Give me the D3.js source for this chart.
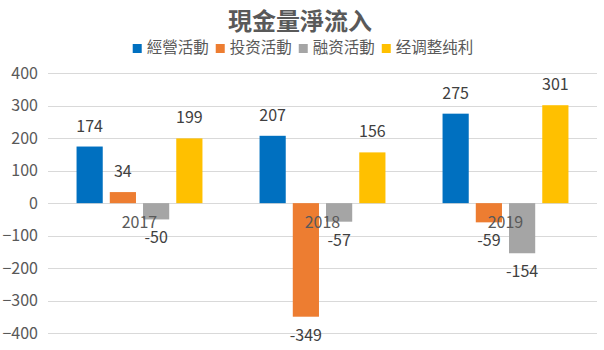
<!DOCTYPE html>
<html><head><meta charset="utf-8">
<script src="https://cdn.jsdelivr.net/npm/d3@7"></script>
<style>body{margin:0;background:#fff}svg{display:block}text{font-family:"Noto Sans CJK SC","Microsoft YaHei",sans-serif}</style>
</head><body><svg id="c" width="604" height="350"></svg>
<script>
const title = "現金量淨流入";
const categories = ["2017", "2018", "2019"];
const seriesNames = ["經營活動", "投资活動", "融资活動", "经调整纯利"];
const operating = [174, 207, 275];
const investing = [34, -349, -59];
const financing = [-50, -57, -154];
const adjusted = [199, 156, 301];
const yTicks = [-400, -300, -200, -100, 0, 100, 200, 300, 400];
const colors = ["#0070C0", "#ED7D31", "#A5A5A5", "#FFC000"];

const seriesValues = [operating, investing, financing, adjusted];
const svg = d3.select("#c");
const left = 48, right = 597;
const y = d3.scaleLinear().domain([-400, 400]).range([333.3, 73]);
const x0 = d3.scaleBand().domain(categories).range([left, right]).padding(0);
const bw = x0.bandwidth();
const x1 = d3.scaleBand().domain(seriesNames).range([bw * 0.156, bw * 0.844]).paddingInner(0.212).paddingOuter(0);

// gridlines
svg.append("g").selectAll("line").data(yTicks).join("line")
  .attr("x1", left).attr("x2", right)
  .attr("y1", d => Math.round(y(d)) + 0.5).attr("y2", d => Math.round(y(d)) + 0.5)
  .attr("stroke", "#D9D9D9").attr("stroke-width", 1);

// y axis labels
const yAxis = d3.axisLeft(y).tickValues(yTicks).tickSize(0).tickPadding(10);
const ga = svg.append("g").attr("transform", `translate(${left},0)`).call(yAxis);
ga.select(".domain").remove();
ga.selectAll("text").attr("fill", "#595959").style("font-size", "16px")
  .style("font-family", '"Noto Sans CJK SC",sans-serif');

// bars
const data = [];
categories.forEach((c, i) => seriesNames.forEach((s, j) => data.push({c, s, j, v: seriesValues[j][i]})));
const g = svg.append("g");
g.selectAll("rect").data(data).join("rect")
  .attr("x", d => x0(d.c) + x1(d.s))
  .attr("width", x1.bandwidth())
  .attr("y", d => y(Math.max(0, d.v)))
  .attr("height", d => Math.abs(y(d.v) - y(0)))
  .attr("fill", d => colors[d.j]);

// category labels
svg.append("g").selectAll("text").data(categories).join("text")
  .attr("x", d => x0(d) + bw / 2).attr("y", y(0) + 25)
  .attr("text-anchor", "middle").attr("fill", "#595959").style("font-size", "16px")
  .text(d => d);

// value labels
svg.append("g").selectAll("text").data(data).join("text")
  .attr("x", d => x0(d.c) + x1(d.s) + x1.bandwidth() / 2)
  .attr("y", d => d.v >= 0 ? y(d.v) - 15 : y(d.v) + 24)
  .attr("text-anchor", "middle").attr("fill", "#404040").style("font-size", "16px")
  .text(d => d.v);

// title
svg.append("text").attr("x", 300).attr("y", 30).attr("text-anchor", "middle")
  .attr("fill", "#595959").style("font-size", "24px").style("font-weight", "bold")
  .text(title);

// legend
const lg = svg.append("g");
let cx = 0;
seriesNames.forEach((s, j) => {
  const it = lg.append("g").attr("transform", `translate(${cx},0)`);
  it.append("rect").attr("x", 0).attr("y", -9).attr("width", 9).attr("height", 9).attr("fill", colors[j]);
  const t = it.append("text").attr("x", 14).attr("y", 0).attr("fill", "#595959").style("font-size", "15.5px").text(s);
  const w = t.node().getComputedTextLength();
  cx += 14 + w + 7;
});
const totalW = cx - 7;
lg.attr("transform", `translate(${303 - totalW / 2},53)`);
</script></body></html>
